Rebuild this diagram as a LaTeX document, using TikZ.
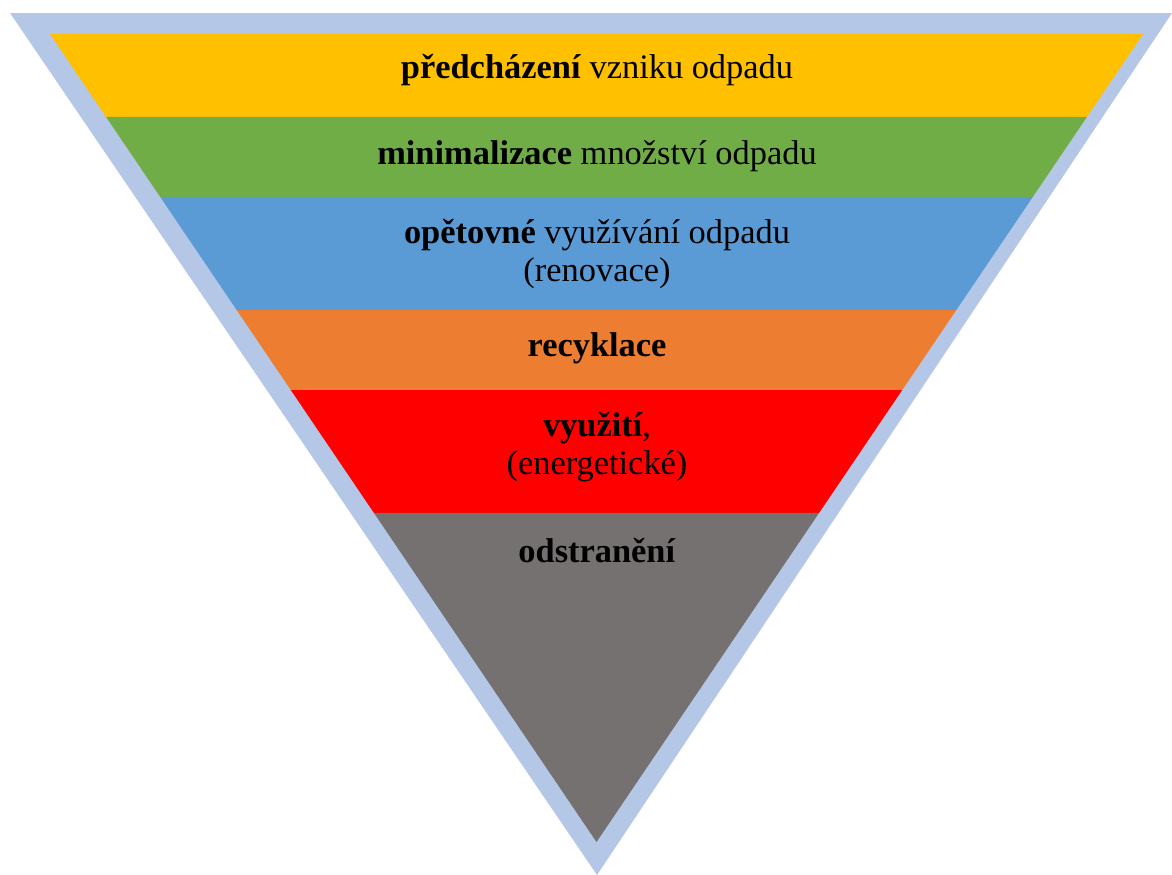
\documentclass[tikz,border=0pt]{standalone}
\usepackage{fontspec}
\setmainfont{Liberation Serif}
\usetikzlibrary{calc}
\definecolor{cframe}{HTML}{B4C7E7}
\definecolor{cyellow}{HTML}{FFC000}
\definecolor{cgreen}{HTML}{70AD47}
\definecolor{cblue}{HTML}{5B9BD5}
\definecolor{corange}{HTML}{ED7D31}
\definecolor{cred}{HTML}{FF0000}
\definecolor{cgray}{HTML}{767171}
\begin{document}
\begin{tikzpicture}[x=0.75pt,y=-0.75pt,
  lbl/.style={inner sep=0pt,align=center,text=black,font=\fontsize{25.8}{28.5}\selectfont}]
\useasboundingbox (0,0) rectangle (1172,875);
% outer frame
\coordinate (OL) at (10,13);
\coordinate (OR) at (1172,13);
\coordinate (OT) at (597,875);
\fill[cframe] (OL) -- (OR) -- (OT) -- cycle;
% inner triangle
\coordinate (TL) at (50,34);
\coordinate (TR) at (1143,34);
\coordinate (T) at (596.5,842);
\foreach \i/\t in {1/0.1027,2/0.2017,3/0.3416,4/0.4406,5/0.5928}{
  \coordinate (L\i) at ($(TL)!\t!(T)$);
  \coordinate (R\i) at ($(TR)!\t!(T)$);
}
\fill[cyellow] (TL) -- (TR) -- (R1) -- (L1) -- cycle;
\fill[cgreen] (L1) -- (R1) -- (R2) -- (L2) -- cycle;
\fill[cblue] (L2) -- (R2) -- (R3) -- (L3) -- cycle;
\fill[corange] (L3) -- (R3) -- (R4) -- (L4) -- cycle;
\fill[cred] (L4) -- (R4) -- (R5) -- (L5) -- cycle;
\fill[cgray] (L5) -- (R5) -- (T) -- cycle;
% labels
\node[lbl] (n1) at (597,70) {\textbf{předcházení} vzniku odpadu};
\node[lbl] (n2) at (597,156) {\textbf{minimalizace} množství odpadu};
\node[lbl] (n3) at (597,254) {\textbf{opětovné} využívání odpadu\\(renovace)};
\node[lbl] (n4) at (597,348) {\textbf{recyklace}};
\node[lbl] (n5) at (597,447) {\textbf{využití},\\(energetické)};
\node[lbl] (n6) at (597,551) {\textbf{odstranění}};
\end{tikzpicture}
\end{document}
